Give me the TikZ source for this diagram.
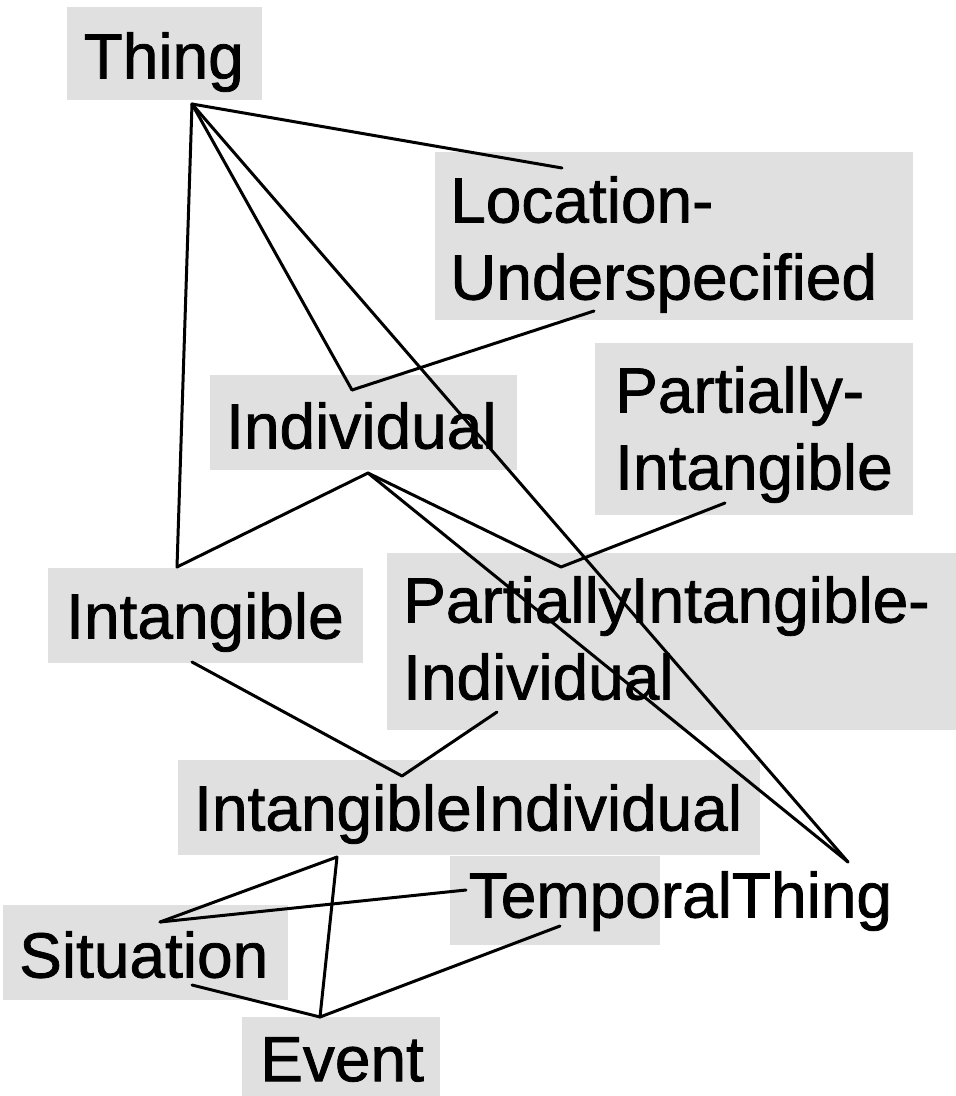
\documentclass[tikz,border=0pt]{standalone}
\usepackage{fontspec}
\setmainfont[FakeBold=1.2,AutoFakeBold=1.2]{Liberation Sans}
\begin{document}
\begin{tikzpicture}[x=1pt,y=-1pt,
  bg/.style={fill=black!12},
  lbl/.style={inner sep=0pt, anchor=north west, align=left, font=\fontsize{64}{77}\selectfont\bfseries},
  conn/.style={line width=3pt, line cap=round, line join=round}]
\useasboundingbox (0,0) rectangle (956,1096);
% halftone backgrounds
\fill[bg] (67,7) rectangle (262,100);
\fill[bg] (435,152) rectangle (913,320);
\fill[bg] (595,343) rectangle (913,515);
\fill[bg] (210,375) rectangle (517,470);
\fill[bg] (48,568) rectangle (363,663);
\fill[bg] (387,553) rectangle (956,730);
\fill[bg] (178,760) rectangle (760,855);
\fill[bg] (450,856) rectangle (660,945);
\fill[bg] (3,905) rectangle (288,1000);
\fill[bg] (242,1017) rectangle (440,1096);
% labels
\node[lbl] (thing) at (83.5,32) {Thing};
\node[lbl] (locund) at (450,176) {Location-\\Underspecified};
\node[lbl] (partint) at (615,366) {Partially-\\Intangible};
\node[lbl] (indiv) at (226,402) {Individual};
\node[lbl] (intang) at (66,592) {Intangible};
\node[lbl] (piind) at (403,576) {PartiallyIntangible-\\Individual};
\node[lbl] (intind) at (194,784) {IntangibleIndividual};
\node[lbl] (temporal) at (468.5,871) {TemporalThing};
\node[lbl] (situation) at (19,931) {Situation};
\node[lbl] (event) at (260,1037) {Event};
% attachment points
\coordinate (thingB) at (192,104);
\coordinate (locT) at (562,168);
\coordinate (locB) at (594,311);
\coordinate (indT) at (352,390);
\coordinate (indB) at (368,473);
\coordinate (intT) at (177,567);
\coordinate (intB) at (192,662);
\coordinate (piB) at (725,503);
\coordinate (piiT) at (561,567);
\coordinate (piiB) at (497,712);
\coordinate (iiT) at (402,776);
\coordinate (iiB) at (337,857);
\coordinate (ttT) at (848,862);
\coordinate (ttL) at (466,890);
\coordinate (ttB) at (560,926);
\coordinate (sitT) at (160,922);
\coordinate (sitB) at (192,985);
\coordinate (evT) at (320,1017);
% connectors
\draw[conn] (thingB) -- (locT);
\draw[conn] (thingB) -- (intT);
\draw[conn] (thingB) -- (indT);
\draw[conn] (thingB) -- (ttT);
\draw[conn] (locB) -- (indT);
\draw[conn] (indB) -- (intT);
\draw[conn] (indB) -- (piiT);
\draw[conn] (indB) -- (ttT);
\draw[conn] (piB) -- (piiT);
\draw[conn] (intB) -- (iiT);
\draw[conn] (piiB) -- (iiT);
\draw[conn] (iiB) -- (sitT);
\draw[conn] (iiB) -- (evT);
\draw[conn] (ttL) -- (sitT);
\draw[conn] (ttB) -- (evT);
\draw[conn] (sitB) -- (evT);
\end{tikzpicture}
\end{document}
